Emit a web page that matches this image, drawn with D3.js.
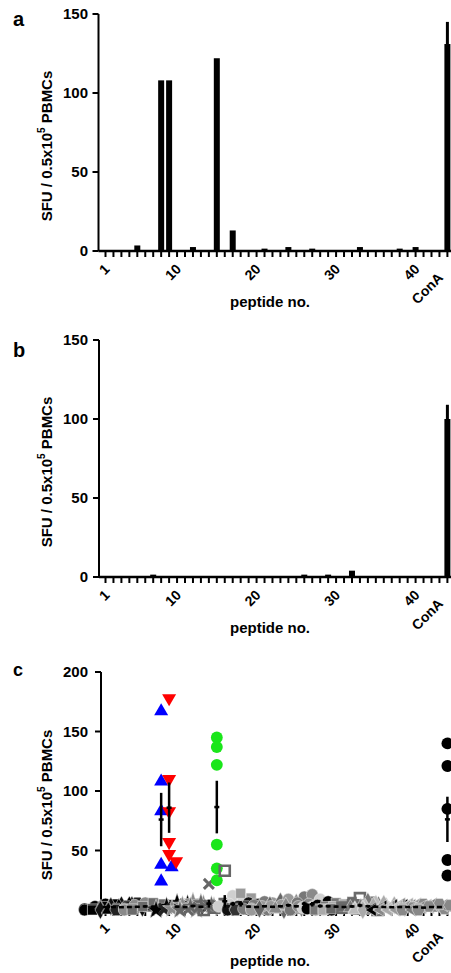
<!DOCTYPE html>
<html>
<head>
<meta charset="utf-8">
<script src="https://cdn.jsdelivr.net/npm/d3@7"></script>
<style>
body { margin: 0; background: #fff; }
svg text { font-family: "Liberation Sans", Arial, sans-serif; font-weight: bold; fill: #000; }
</style>
</head>
<body>
<svg id="chart" width="451" height="973"></svg>
<script>
// categories
var peptides = d3.range(1, 44).map(String).concat(["ConA"]);
var tickLabels = ["1", "10", "20", "30", "40", "ConA"];
var yTicksAB = [0, 50, 100, 150];
var yTicksC = [0, 50, 100, 150, 200];

// panel a - SFU per peptide
var valuesA = [0, 0, 0.5, 0.5, 3.5, 0, 0, 108, 108, 0, 0, 2.5, 0, 0, 122, 0.5, 13, 0, 0, 0,
    1.5, 0, 0.5, 2.5, 0, 0.5, 1.5, 0, 0.5, 0, 0, 0.5, 2.5, 0.5, 0, 0, 0, 1.5, 0.5, 2.5,
    0, 0, 0, 131];
var errA = {"ConA": 14};

// panel b
var valuesB = [0.5, 0, 0.5, 0, 0, 0, 1.5, 0.5, 0, 0, 0, 0, 0, 0, 0, 0, 0, 0, 0, 0.5,
    0, 0, 0, 0, 0, 1.5, 0, 0, 1.5, 0, 0, 4, 0, 0, 0.5, 0.5, 0, 0.5, 0, 0,
    0, 0, 0, 100];
var errB = {"ConA": 9};

// panel c - one list of donor values per peptide
var valuesC = [
    [0, 1, 2, 3, 4, 5], [0, 1, 2, 3, 4, 5], [0, 1, 2, 3, 4, 4], [0, 1, 2, 3, 4, 5],
    [0, 1, 2, 3, 4, 6], [0, 1, 2, 4, 5, 6], [0, 1, 2, 3, 5, 6],
    [167, 108, 83, 38, 36, 24],
    [178, 110, 83, 57, 47, 41],
    [0, 1, 2, 3, 5, 6], [0, 1, 2, 3, 4, 5], [0, 1, 3, 4, 5, 7], [0, 1, 2, 3, 4, 6],
    [22, 0, 1, 2, 3, 4],
    [145, 137, 122, 55, 35, 25],
    [33, 2, 1, 3, 0, 5], [12, 8, 5, 2, 1, 3], [14, 10, 4, 1, 0, 2], [0, 1, 2, 3, 5, 6],
    [0, 1, 2, 3, 4, 5], [0, 1, 2, 4, 5, 7], [0, 1, 2, 3, 4, 6], [0, 1, 2, 4, 5, 7],
    [0, 2, 3, 4, 6, 9], [0, 1, 2, 4, 5, 7], [11, 9, 6, 2, 0, 4], [13, 7, 3, 1, 0, 5],
    [9, 3, 1, 2, 0, 5], [0, 1, 2, 4, 5, 7], [0, 1, 2, 3, 5, 6], [0, 1, 2, 3, 4, 5],
    [0, 1, 2, 3, 5, 7], [10, 4, 2, 1, 0, 6], [8, 3, 1, 2, 0, 5], [0, 1, 2, 3, 4, 6],
    [0, 1, 2, 3, 4, 5], [0, 1, 2, 3, 4, 4], [0, 1, 2, 3, 4, 5], [0, 1, 2, 3, 4, 5],
    [0, 1, 2, 3, 4, 5], [0, 1, 1, 2, 3, 5], [0, 1, 2, 3, 4, 5], [0, 1, 2, 3, 4, 5],
    [140, 121, 85, 42, 40, 29]
];
var symbolsC = ["circle", "square", "diamond", "triangle", "hexagon", "circle", "square",
    "triangle", "triangleDown", "star", "times", "star", "star", "times", "circle",
    "squareOpen", "circle", "square", "circle", "hexagon", "circle", "circle", "diamond",
    "circle", "triangle", "circle", "circle", "circle", "circle", "square", "square",
    "square", "squareOpen", "triangle", "triangle", "diamond", "chevron", "chevron",
    "chevron", "chevron", "hexagon", "chevron", "hexagon", "circle"];
var colorsC = ["#000", "#000", "#111", "#000", "#222", "#8a8a8a", "#6a6a6a",
    "#0000ff", "#ff0000", "#000", "#222", "#888", "#666", "#666", "#1ae61a",
    "#666", "#cfcfcf", "#9a9a9a", "#111", "#333", "#7a7a7a", "#999", "#666",
    "#999", "#888", "#777", "#8a8a8a", "#d0d0d0", "#000", "#777", "#aaa",
    "#666", "#6a6a6a", "#777", "#bbb", "#aaa", "#000", "#888",
    "#aaa", "#999", "#888", "#7a7a7a", "#888", "#000"];

var svg = d3.select("#chart");

var x = d3.scalePoint().domain(peptides).range([105.5, 447.4]);

var panels = [
    {letter: "a", axisX: 98.5, top: 14, zero: 251, max: 150, ticks: yTicksAB, letterY: 26, letterSize: 20},
    {letter: "b", axisX: 99, top: 340, zero: 577, max: 150, ticks: yTicksAB, letterY: 357, letterSize: 20},
    {letter: "c", axisX: 101, top: 672, zero: 910, max: 200, ticks: yTicksC, letterY: 676, letterSize: 18}
];

function drawAxes(p) {
    var y = d3.scaleLinear().domain([0, p.max]).range([p.zero, p.top]);
    var g = svg.append("g");

    // y axis
    g.append("line").attr("x1", p.axisX).attr("x2", p.axisX)
        .attr("y1", y(p.max)).attr("y2", y(0))
        .attr("stroke", "#000").attr("stroke-width", 2);
    p.ticks.forEach(function (t) {
        g.append("line").attr("x1", p.axisX - 6).attr("x2", p.axisX)
            .attr("y1", y(t)).attr("y2", y(t))
            .attr("stroke", "#000").attr("stroke-width", 2);
        g.append("text").attr("x", 88).attr("y", y(t)).attr("dy", "0.36em")
            .attr("text-anchor", "end").style("font-size", "15px").text(t);
    });

    // x axis
    g.append("line").attr("x1", p.axisX).attr("x2", 451)
        .attr("y1", y(0)).attr("y2", y(0))
        .attr("stroke", "#000").attr("stroke-width", 2.5);
    peptides.forEach(function (d) {
        g.append("line").attr("x1", x(d)).attr("x2", x(d))
            .attr("y1", y(0)).attr("y2", y(0) + 6)
            .attr("stroke", "#000").attr("stroke-width", 2);
    });
    tickLabels.forEach(function (d) {
        g.append("text")
            .attr("transform", "translate(" + (x(d) + 5) + "," + (y(0) + 19) + ") rotate(-45)")
            .attr("text-anchor", "end")
            .attr("dx", d === "ConA" ? -12 : 0)
            .style("font-size", "14px").text(d);
    });

    // titles
    var yt = g.append("text")
        .attr("transform", "translate(52," + (y(0) - 105) + ") rotate(-90)")
        .attr("text-anchor", "middle").style("font-size", "15px");
    yt.append("tspan").text("SFU / 0.5x10");
    yt.append("tspan").attr("dy", -7).style("font-size", "10px").text("5");
    yt.append("tspan").attr("dy", 7).text(" PBMCs");

    g.append("text").attr("x", 270).attr("y", y(0) + 56)
        .attr("text-anchor", "middle").style("font-size", "15px").text("peptide no.");

    g.append("text").attr("x", 13).attr("y", p.letterY)
        .style("font-size", p.letterSize + "px").text(p.letter);
    return y;
}

function drawBars(p, values, err) {
    var y = drawAxes(p);
    var g = svg.append("g");
    values.forEach(function (v, i) {
        var d = peptides[i];
        if (err[d]) {
            g.append("line").attr("x1", x(d)).attr("x2", x(d))
                .attr("y1", y(v + err[d])).attr("y2", y(v))
                .attr("stroke", "#000").attr("stroke-width", 3);
        }
        g.append("rect").attr("x", x(d) - 3).attr("width", 6)
            .attr("y", y(v)).attr("height", y(0) - y(v)).attr("fill", "#000");
    });
}

drawBars(panels[0], valuesA, errA);
drawBars(panels[1], valuesB, errB);

// ---- panel c scatter ----
function symbolPath(type) {
    if (type === "circle") return d3.symbol(d3.symbolCircle, 110)();
    if (type === "square" || type === "squareOpen") return d3.symbol(d3.symbolSquare, 100)();
    if (type === "diamond") return d3.symbol(d3.symbolDiamond, 100)();
    if (type === "triangle" || type === "triangleDown") return d3.symbol(d3.symbolTriangle, 85)();
    if (type === "star") return d3.symbol(d3.symbolStar, 110)();
    if (type === "times") return "M-5,-5L5,5M5,-5L-5,5";
    if (type === "chevron") return "M5.5,-6.5L-5.5,0L5.5,6.5L5.5,2.5L2,0L5.5,-2.5Z";
    if (type === "hexagon") {
        var pts = d3.range(6).map(function (k) {
            var a = Math.PI / 3 * k;
            return [6.5 * Math.cos(a), 6.5 * Math.sin(a)];
        });
        return "M" + pts.join("L") + "Z";
    }
}

// spread overlapping points sideways
function swarm(vals, y) {
    var placed = [];
    var steps = [0, 1, -1, 2, -2, 3, -3, 4, -4, 5, -5, 6, -6];
    vals.slice().sort(function (a, b) { return b - a; }).forEach(function (v) {
        var py = y(v), off = 0;
        for (var k = 0; k < steps.length; k++) {
            off = steps[k] * 3.5;
            var ok = placed.every(function (q) { return Math.hypot(q.dx - off, q.py - py) >= 9; });
            if (ok) break;
        }
        placed.push({v: v, py: py, dx: off});
    });
    return placed;
}

var yC = drawAxes(panels[2]);
var gc = svg.append("g");
valuesC.forEach(function (vals, i) {
    var d = peptides[i];
    var type = symbolsC[i];
    var col = colorsC[i];
    swarm(vals, yC).forEach(function (pt) {
        var s = gc.append("path")
            .attr("d", symbolPath(type))
            .attr("transform", "translate(" + (x(d) + pt.dx) + "," + pt.py + ")" +
                (type === "triangleDown" ? " rotate(180)" : ""));
        if (type === "times") {
            s.attr("fill", "none").attr("stroke", col).attr("stroke-width", 3);
        } else if (type === "squareOpen") {
            s.attr("fill", "none").attr("stroke", col).attr("stroke-width", 2.6);
        } else {
            s.attr("fill", col);
            if (pt.v < 20) s.attr("stroke", "#f2f2f2").attr("stroke-width", 0.5);
        }
    });
});

// mean +/- SEM
valuesC.forEach(function (vals, i) {
    var d = peptides[i];
    var m = d3.mean(vals);
    var sem = d3.deviation(vals) / Math.sqrt(vals.length);
    gc.append("line").attr("x1", x(d)).attr("x2", x(d))
        .attr("y1", yC(m + sem)).attr("y2", yC(Math.max(0, m - sem)))
        .attr("stroke", "#000").attr("stroke-width", 2.5);
    gc.append("line").attr("x1", x(d) - 2.5).attr("x2", x(d) + 2.5)
        .attr("y1", yC(m)).attr("y2", yC(m))
        .attr("stroke", "#000").attr("stroke-width", 2.5);
});
</script>
</body>
</html>
